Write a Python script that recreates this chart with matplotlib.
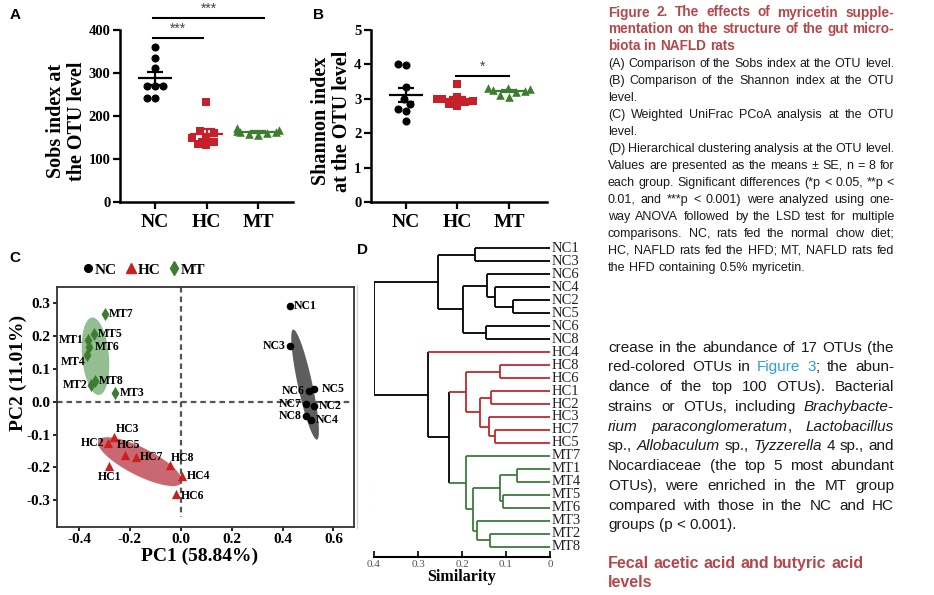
import numpy as np
import matplotlib
matplotlib.use("Agg")
import matplotlib.pyplot as plt
import seaborn as sns
from matplotlib.lines import Line2D
from matplotlib.patches import Polygon

SERIF = "Liberation Serif"
SANS = "Liberation Sans"

groups = ["NC", "HC", "MT"]
colors = {"NC": "black", "HC": "#c8202a", "MT": "#3e7d2f"}
tree_colors = {"NC": "black", "HC": "#c0282d", "MT": "#3a7d3a"}
markers = {"NC": "o", "HC": "s", "MT": "^"}

# A - Sobs index at the OTU level (n = 8 per group)
sobs_nc = [361, 334, 311, 270, 270, 269, 242, 241]
sobs_hc = [233, 165, 160, 152, 148, 140, 136, 132]
sobs_mt = [172, 168, 166, 163, 162, 160, 158, 156]

# B - Shannon index at the OTU level
shan_nc = [4.00, 3.98, 3.35, 3.00, 2.85, 2.70, 2.65, 2.35]
shan_hc = [3.43, 3.05, 3.00, 2.98, 2.95, 2.90, 2.85, 2.78]
shan_mt = [3.32, 3.30, 3.28, 3.25, 3.22, 3.20, 3.12, 3.05]

# C - weighted UniFrac PCoA
nc_names = ["NC1", "NC3", "NC6", "NC5", "NC7", "NC2", "NC8", "NC4"]
nc_pc1 = [0.429, 0.429, 0.505, 0.525, 0.492, 0.524, 0.492, 0.513]
nc_pc2 = [0.293, 0.170, 0.034, 0.039, -0.006, -0.012, -0.043, -0.056]
hc_names = ["HC3", "HC2", "HC5", "HC7", "HC1", "HC8", "HC4", "HC6"]
hc_pc1 = [-0.262, -0.286, -0.220, -0.177, -0.281, -0.041, 0.003, -0.020]
hc_pc2 = [-0.107, -0.125, -0.163, -0.170, -0.196, -0.193, -0.227, -0.280]
mt_names = ["MT7", "MT5", "MT1", "MT6", "MT4", "MT8", "MT2", "MT3"]
mt_pc1 = [-0.299, -0.343, -0.365, -0.361, -0.369, -0.339, -0.352, -0.257]
mt_pc2 = [0.267, 0.206, 0.188, 0.166, 0.142, 0.064, 0.051, 0.027]

# D - hierarchical clustering, leaves top to bottom and merges (a, b, similarity)
leaves = ["NC1", "NC3", "NC6", "NC4", "NC2", "NC5", "NC6", "NC8",
          "HC4", "HC8", "HC6", "HC1", "HC2", "HC3", "HC7", "HC5",
          "MT7", "MT1", "MT4", "MT5", "MT6", "MT3", "MT2", "MT8"]
merges = [(4, 5, 0.084), (3, 24, 0.125), (2, 25, 0.144), (6, 7, 0.145),
          (26, 27, 0.197), (0, 1, 0.171), (29, 28, 0.254),
          (9, 10, 0.114), (11, 12, 0.133), (14, 15, 0.125), (13, 33, 0.138),
          (32, 34, 0.159), (31, 35, 0.190),
          (17, 18, 0.076), (19, 20, 0.106), (37, 38, 0.114), (22, 23, 0.137),
          (21, 40, 0.167), (39, 41, 0.175), (16, 42, 0.192),
          (36, 43, 0.229), (8, 44, 0.277), (30, 45, 0.399)]

caption_title = ["Figure 2. The effects of myricetin supple-",
                 "mentation on the structure of the gut micro-",
                 "biota in NAFLD rats"]
caption_body = ["(A) Comparison of the Sobs index at the OTU level.",
                "(B) Comparison of the Shannon index at the OTU",
                "level.",
                "(C) Weighted UniFrac PCoA analysis at the OTU",
                "level.",
                "(D) Hierarchical clustering analysis at the OTU level.",
                "Values are presented as the means \u00b1 SE, n = 8 for",
                "each group. Significant differences (*p < 0.05, **p <",
                "0.01, and ***p < 0.001) were analyzed using one-",
                "way ANOVA followed by the LSD test for multiple",
                "comparisons. NC, rats fed the normal chow diet;",
                "HC, NAFLD rats fed the HFD; MT, NAFLD rats fed",
                "the HFD containing 0.5% myricetin."]
body_text = ["crease in the abundance of 17 OTUs (the",
             "red-colored OTUs in ^Figure 3^; the abun-",
             "dance of the top 100 OTUs). Bacterial",
             "strains or OTUs, including _Brachybacte-_",
             "_rium_ _paraconglomeratum_, _Lactobacillus_",
             "sp., _Allobaculum_ sp., _Tyzzerella_ 4 sp., and",
             "Nocardiaceae (the top 5 most abundant",
             "OTUs), were enriched in the MT group",
             "compared with those in the NC and HC",
             "groups (p < 0.001)."]
heading = ["Fecal acetic acid and butyric acid", "levels"]

RED_HEAD = "#b5474b"
LINK = "#2e9fd8"

fig = plt.figure(figsize=(9.34, 5.95), dpi=100)
fig.patch.set_facecolor("white")

# pixel overlay for the captions and free text
ov = fig.add_axes([0, 0, 1, 1])
ov.set_xlim(0, 934)
ov.set_ylim(595, 0)
ov.axis("off")


def parse(line):
    words = []
    ital = False
    blue = False
    for w in line.split(" "):
        segs = []
        buf = ""
        for ch in w:
            if ch in "_^":
                if buf:
                    segs.append((buf, ital, blue))
                    buf = ""
                if ch == "_":
                    ital = not ital
                else:
                    blue = not blue
            else:
                buf += ch
        if buf:
            segs.append((buf, ital, blue))
        words.append(segs)
    return words


def draw_line(y, line, size, weight="normal", color="#1a1a1a", justify=True, x0=608, x1=894):
    renderer = fig.canvas.get_renderer()
    words = parse(line)
    placed = []
    widths = []
    for segs in words:
        ts = []
        total = 0
        for s, ital, blue in segs:
            t = ov.text(0, y, s, fontsize=size, family=SANS, weight=weight,
                        style="italic" if ital else "normal",
                        color=LINK if blue else color, va="baseline", ha="left")
            w = t.get_window_extent(renderer).width
            ts.append((t, w))
            total += w
        placed.append(ts)
        widths.append(total)
    if justify and len(words) > 1:
        gap = (x1 - x0 - sum(widths)) / (len(words) - 1)
    else:
        gap = 0.278 * size * 100 / 72
    x = x0
    for ts, w in zip(placed, widths):
        xx = x
        for t, tw in ts:
            t.set_x(xx)
            xx += tw
        x += w + gap


for i, line in enumerate(caption_title):
    draw_line(16.5 + i * 16.5, line, 9.8, weight="bold", color=RED_HEAD,
              justify=i < len(caption_title) - 1)
short = {"level.", "the HFD containing 0.5% myricetin."}
for i, line in enumerate(caption_body):
    draw_line(66.8 + i * 16.99, line, 9, justify=line not in short)
for i, line in enumerate(body_text):
    draw_line(351.7 + i * 19.75, line, 11, justify=i < len(body_text) - 1)
for i, line in enumerate(heading):
    draw_line(568.3 + i * 19.0, line, 11.5, weight="bold", color=RED_HEAD, justify=False)

# panel letters
for lab, x, y in [("A", 15, 15), ("B", 318, 15), ("C", 15, 258), ("D", 362, 250)]:
    ov.text(x, y, lab, fontsize=11, family=SANS, weight="bold", ha="center", va="center")
ov.plot([357, 357], [285, 528], color="#d4d4d4", lw=1)


def dot_panel(rect, data, ymax, ylabel, label_x, ticks):
    ax = fig.add_axes(rect)
    for g, vals in zip(groups, data):
        sns.swarmplot(x=[g] * len(vals), y=vals, order=groups, marker=markers[g],
                      color=colors[g], size=5.8 if g != "MT" else 6.2, linewidth=0, ax=ax)
    for i, (g, vals) in enumerate(zip(groups, data)):
        v = np.asarray(vals, dtype=float)
        m = v.mean()
        se = v.std(ddof=1) / np.sqrt(len(v))
        ax.hlines(m, i - 0.33, i + 0.33, color=colors[g], lw=1.6, zorder=5)
        ax.vlines(i, m - se, m + se, color=colors[g], lw=1.6, zorder=5)
        ax.hlines([m - se, m + se], i - 0.16, i + 0.16, color=colors[g], lw=1.6, zorder=5)
    ax.set_ylim(0, ymax)
    ax.set_yticks(ticks)
    ax.spines["top"].set_visible(False)
    ax.spines["right"].set_visible(False)
    for s in ("left", "bottom"):
        ax.spines[s].set_linewidth(1.8)
    ax.tick_params(width=1.6, length=5)
    ax.tick_params(axis="y", pad=2)
    ax.set_xticks(range(3))
    ax.set_xticklabels(groups, fontsize=14, family=SERIF, weight="bold")
    for t in ax.get_yticklabels():
        t.set_fontsize(10.5)
        t.set_family(SERIF)
        t.set_weight("bold")
    ax.set_xlabel("")
    ax.set_ylabel(ylabel, fontsize=14.5, family=SERIF, weight="bold", linespacing=1.05)
    ax.yaxis.set_label_coords(label_x, 0.47)
    return ax


axA = dot_panel([120 / 934, 393 / 595, 173 / 934, 172 / 595],
                [sobs_nc, sobs_hc, sobs_mt], 400, "Sobs index at\nthe OTU level",
                -0.19, [0, 100, 200, 300, 400])
axA.set_xlim(-0.68, 2.68)
axA.plot([-0.04, 0.93], [382, 382], color="black", lw=1.5, clip_on=False)
axA.text(0.45, 386, "***", ha="center", va="bottom", fontsize=10, color="#444", family=SANS)
axA.plot([-0.04, 2.12], [428, 428], color="black", lw=1.5, clip_on=False)
axA.text(1.05, 432, "***", ha="center", va="bottom", fontsize=10, color="#444", family=SANS)

axB = dot_panel([371 / 934, 393 / 595, 176 / 934, 172 / 595],
                [shan_nc, shan_hc, shan_mt], 5, "Shannon index\nat the OTU level",
                -0.11, [0, 1, 2, 3, 4, 5])
axB.set_xlim(-0.68, 2.74)
axB.plot([0.97, 2.0], [3.66, 3.66], color="black", lw=1.5)
axB.text(1.48, 3.72, "*", ha="center", va="bottom", fontsize=10, color="#444", family=SANS)

# C - PCoA
axC = fig.add_axes([57 / 934, 68 / 595, 297 / 934, 240 / 595])
axC.set_xlim(-0.487, 0.681)
axC.set_ylim(-0.382, 0.35)


def cov_ellipse(ax, x, y, n_std, **kw):
    x = np.asarray(x)
    y = np.asarray(y)
    vals, vecs = np.linalg.eigh(np.cov(x, y))
    t = np.linspace(0, 2 * np.pi, 120)
    pts = np.column_stack([np.cos(t), np.sin(t)]) * np.sqrt(vals) * n_std
    pts = pts @ vecs.T + [x.mean(), y.mean()]
    ax.add_patch(Polygon(pts, closed=True, lw=0, **kw))


cov_ellipse(axC, nc_pc1, nc_pc2, 1.4, color="#555555", alpha=0.95, zorder=1)
cov_ellipse(axC, hc_pc1, hc_pc2, 1.35, color="#c8606a", alpha=0.95, zorder=1)
cov_ellipse(axC, mt_pc1, mt_pc2, 1.4, color="#8dbb8b", alpha=0.95, zorder=1)

axC.axhline(0, color="#555", lw=1.6, ls=(0, (2.5, 1.8)), zorder=2)
axC.plot([0, 0], [0.35, -0.35], color="#555", lw=1.6, ls=(0, (2.5, 1.8)), zorder=2)

axC.scatter(nc_pc1, nc_pc2, marker="o", s=30, color="black", zorder=4, lw=0)
axC.scatter(hc_pc1, hc_pc2, marker="^", s=45, color="#cc1f1f", zorder=4, lw=0)
axC.scatter(mt_pc1, mt_pc2, marker="d", s=45, color="#3e7d2f", zorder=4, lw=0)

# label offsets in points: (dx, dy, ha)
R = (3, 0, "left")
L = (-3, 0, "right")
label_pos = {
    "MT7": R, "MT5": R, "MT1": L, "MT6": (4, 0, "left"), "MT4": (-1, -5, "right"),
    "MT8": R, "MT2": L, "MT3": R,
    "HC3": (1, 6, "left"), "HC2": (-3, 0, "right"), "HC5": (3, 7, "center"),
    "HC7": R, "HC1": (0, -8, "center"), "HC8": (0, 5, "left"), "HC4": (4, 0, "left"),
    "HC6": (4, -2, "left"),
    "NC1": R, "NC3": L, "NC6": L, "NC5": (5, 0, "left"), "NC7": L, "NC2": R,
    "NC8": L, "NC4": R,
}
for names, xs, ys in [(nc_names, nc_pc1, nc_pc2), (hc_names, hc_pc1, hc_pc2),
                      (mt_names, mt_pc1, mt_pc2)]:
    for n, x, y in zip(names, xs, ys):
        dx, dy, ha = label_pos[n]
        axC.annotate(n, (x, y), xytext=(dx, dy), textcoords="offset points",
                     ha=ha, va="center", fontsize=8.5, family=SERIF, weight="bold", zorder=5)

axC.set_xticks([-0.4, -0.2, 0.0, 0.2, 0.4, 0.6])
axC.set_xticklabels(["-0.4", "-0.2", "0.0", "0.2", "0.4", "0.6"])
axC.set_yticks([-0.3, -0.2, -0.1, 0.0, 0.1, 0.2, 0.3])
axC.set_yticklabels(["-0.3", "-0.2", "-0.1", "0.0", "0.1", "0.2", "0.3"])
for t in axC.get_xticklabels() + axC.get_yticklabels():
    t.set_fontsize(11)
    t.set_family(SERIF)
    t.set_weight("bold")
for s in axC.spines.values():
    s.set_linewidth(1.3)
    s.set_color("#333")
axC.tick_params(width=1.2, length=3, pad=1.5)
axC.set_xlabel("PC1 (58.84%)", fontsize=14, family=SERIF, weight="bold")
axC.xaxis.set_label_coords(0.48, -0.085)
axC.set_ylabel("PC2 (11.01%)", fontsize=14, family=SERIF, weight="bold")
axC.yaxis.set_label_coords(-0.1, 0.64)

handles = [Line2D([], [], marker="o", ls="", color="black", ms=5.5),
           Line2D([], [], marker="^", ls="", color="#cc1f1f", ms=7),
           Line2D([], [], marker="d", ls="", color="#3e7d2f", ms=7)]
axC.legend(handles, groups, loc="center", bbox_to_anchor=(0.295, 1.071), ncol=3,
           frameon=False, handlelength=0.6, handletextpad=0.15, columnspacing=0.6,
           prop={"family": SERIF, "weight": "bold", "size": 11})

# D - dendrogram
axD = fig.add_axes([374 / 934, 38 / 595, 176 / 934, 317 / 595])
axD.set_xlim(0.4, 0)
axD.set_ylim(23.79, -0.64)
n = len(leaves)
ypos = {i: float(i) for i in range(n)}
xpos = {i: 0.0 for i in range(n)}
grp = {i: leaves[i][:2] for i in range(n)}
for k, (a, b, h) in enumerate(merges):
    node = n + k
    ypos[node] = (ypos[a] + ypos[b]) / 2
    xpos[node] = h
    grp[node] = grp[a] if grp[a] == grp[b] else None
    col = tree_colors[grp[node]] if grp[node] else "black"
    axD.plot([h, h], [ypos[a], ypos[b]], color=col, lw=1.3, solid_capstyle="butt")
    for c in (a, b):
        ccol = tree_colors[grp[c]] if grp[c] else "black"
        axD.plot([h, xpos[c]], [ypos[c], ypos[c]], color=ccol, lw=1.3, solid_capstyle="butt")
for i, lab in enumerate(leaves):
    axD.text(-0.003, i, lab, ha="left", va="center", fontsize=10.5, family=SERIF,
             color="#222", clip_on=False)
for s in ("top", "right", "left"):
    axD.spines[s].set_visible(False)
axD.spines["bottom"].set_linewidth(1.5)
axD.set_yticks([])
axD.set_xticks([0.4, 0.3, 0.2, 0.1, 0])
axD.set_xticklabels(["0.4", "0.3", "0.2", "0.1", "0"])
axD.tick_params(axis="x", direction="in", length=4, width=1.2, pad=2, labelcolor="#555")
for t in axD.get_xticklabels():
    t.set_fontsize(8)
    t.set_family(SERIF)
axD.set_xlabel("Similarity", fontsize=11.5, family=SERIF, weight="bold", labelpad=0)

for i, g in enumerate(groups):
    y = 482 + i * 12
    ov.plot([375, 380], [y, y], color=tree_colors[g], lw=1.5)
    ov.text(380, y, g, fontsize=8, family=SERIF, weight="bold", va="center", ha="left")

fig.savefig("out.png", dpi=100)
